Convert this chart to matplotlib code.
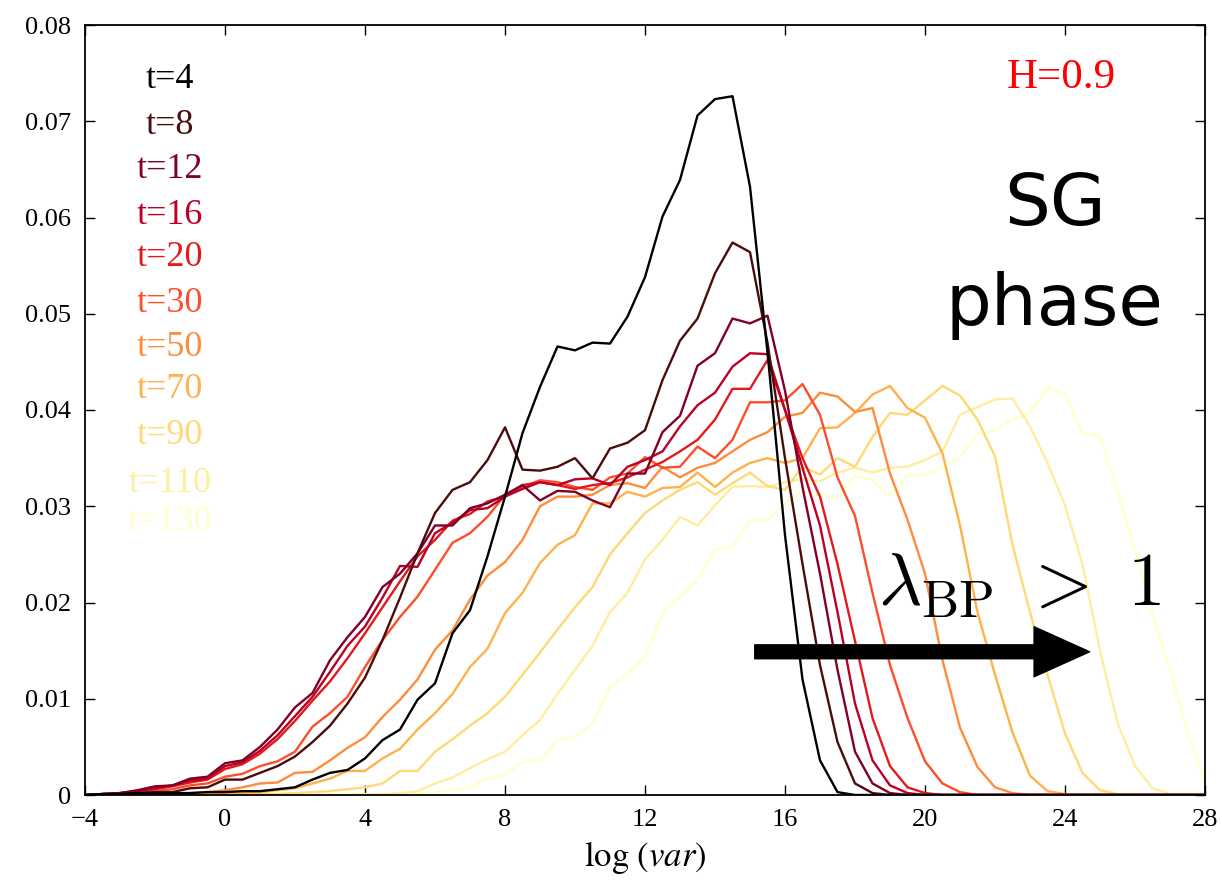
import numpy as np
import matplotlib.pyplot as plt

# bin centres of log(var)
log_var = np.arange(-4, 28.01, 0.5)

t4 = [0, 0.0001, 0.0001, 0.0002, 0.0002, 0.0002, 0.0002, 0.0003, 0.0003, 0.0004,
      0.0004, 0.0006, 0.0008, 0.0016, 0.0023, 0.0026, 0.0038, 0.0057, 0.0068, 0.0099,
      0.0116, 0.0168, 0.0192, 0.0248, 0.031, 0.0376, 0.0424, 0.0466, 0.0462, 0.047,
      0.0469, 0.0497, 0.0538, 0.0601, 0.0639, 0.0706, 0.0723, 0.0726, 0.0632, 0.046,
      0.027, 0.012, 0.0036, 0.0003, 0, 0, 0, 0, 0, 0,
      0, 0, 0, 0, 0, 0, 0, 0, 0, 0,
      0, 0, 0, 0, 0]
t8 = [0, 0.0001, 0.0001, 0.0002, 0.0003, 0.0003, 0.0007, 0.0008, 0.0016, 0.0016,
      0.0023, 0.003, 0.004, 0.0055, 0.0072, 0.0095, 0.0122, 0.0161, 0.0205, 0.0251,
      0.0293, 0.0317, 0.0325, 0.0348, 0.0382, 0.0338, 0.0337, 0.0341, 0.035, 0.0329,
      0.036, 0.0366, 0.0379, 0.0431, 0.0472, 0.0495, 0.0542, 0.0574, 0.0564, 0.047,
      0.035, 0.024, 0.0135, 0.0055, 0.0012, 0.0002, 0, 0, 0, 0,
      0, 0, 0, 0, 0, 0, 0, 0, 0, 0,
      0, 0, 0, 0, 0]
t12 = [0, 0.0001, 0.0002, 0.0005, 0.0009, 0.001, 0.0017, 0.0019, 0.0033, 0.0036,
       0.005, 0.0068, 0.0091, 0.0106, 0.014, 0.0164, 0.0185, 0.0216, 0.023, 0.0251,
       0.028, 0.028, 0.0298, 0.0303, 0.0312, 0.0322, 0.0306, 0.0316, 0.0315, 0.0306,
       0.0299, 0.0334, 0.0334, 0.0377, 0.0394, 0.0446, 0.0459, 0.0495, 0.049, 0.0498,
       0.042, 0.032, 0.023, 0.013, 0.0045, 0.0012, 0.0002, 0, 0, 0,
       0, 0, 0, 0, 0, 0, 0, 0, 0, 0,
       0, 0, 0, 0, 0]
t16 = [0, 0.0001, 0.0002, 0.0004, 0.0007, 0.001, 0.0015, 0.0017, 0.003, 0.0034,
       0.0046, 0.0062, 0.0082, 0.0102, 0.0128, 0.0155, 0.0175, 0.0205, 0.0238, 0.0237,
       0.0272, 0.0283, 0.0296, 0.0298, 0.031, 0.0318, 0.0325, 0.0322, 0.0328, 0.0329,
       0.0322, 0.0341, 0.0348, 0.0357, 0.0383, 0.0405, 0.0418, 0.0445, 0.0459, 0.0458,
       0.040, 0.034, 0.028, 0.019, 0.0095, 0.0036, 0.001, 0.0002, 0, 0,
       0, 0, 0, 0, 0, 0, 0, 0, 0, 0,
       0, 0, 0, 0, 0]
t20 = [0, 0.0001, 0.0002, 0.0004, 0.0006, 0.0009, 0.0013, 0.0016, 0.0027, 0.0032,
       0.0043, 0.0058, 0.0077, 0.0098, 0.0118, 0.0142, 0.0168, 0.0195, 0.0222, 0.0248,
       0.0265, 0.0285, 0.0292, 0.0305, 0.031, 0.0322, 0.0325, 0.0322, 0.0318, 0.0322,
       0.0324, 0.033, 0.0338, 0.0346, 0.0357, 0.0369, 0.039, 0.0422, 0.0422, 0.0452,
       0.040, 0.035, 0.031, 0.024, 0.016, 0.008, 0.003, 0.0008, 0.0002, 0,
       0, 0, 0, 0, 0, 0, 0, 0, 0, 0,
       0, 0, 0, 0, 0]
t30 = [0, 0, 0.0001, 0.0002, 0.0004, 0.0006, 0.001, 0.0012, 0.0019, 0.0022,
       0.003, 0.0035, 0.0045, 0.0071, 0.0085, 0.0102, 0.0133, 0.0161, 0.0185, 0.0206,
       0.0234, 0.0262, 0.0272, 0.0289, 0.0312, 0.032, 0.0327, 0.0325, 0.032, 0.0317,
       0.033, 0.0334, 0.0351, 0.034, 0.0341, 0.0362, 0.035, 0.0369, 0.0408, 0.0408,
       0.041, 0.0427, 0.0395, 0.033, 0.029, 0.021, 0.0135, 0.008, 0.0035, 0.0012,
       0.0003, 0, 0, 0, 0, 0, 0, 0, 0, 0,
       0, 0, 0, 0, 0]
t50 = [0, 0, 0, 0, 0.0001, 0.0001, 0.0002, 0.0003, 0.0005, 0.0008,
       0.0012, 0.0013, 0.0023, 0.0024, 0.0036, 0.0049, 0.006, 0.0081, 0.0099, 0.012,
       0.0151, 0.0171, 0.0203, 0.0228, 0.0242, 0.0265, 0.030, 0.031, 0.031, 0.0312,
       0.0322, 0.0324, 0.0319, 0.0341, 0.033, 0.034, 0.0345, 0.0357, 0.0369, 0.0377,
       0.0393, 0.0397, 0.0418, 0.0414, 0.0398, 0.0402, 0.0334, 0.0286, 0.023, 0.014,
       0.007, 0.0029, 0.0008, 0.0002, 0, 0, 0, 0, 0, 0,
       0, 0, 0, 0, 0]
t70 = [0, 0, 0, 0, 0, 0, 0, 0.0001, 0.0002, 0.0002,
       0.0003, 0.0005, 0.0007, 0.0012, 0.0017, 0.0025, 0.0025, 0.0038, 0.0048, 0.0068,
       0.0085, 0.0105, 0.0133, 0.0152, 0.0189, 0.021, 0.0241, 0.026, 0.027, 0.0303,
       0.0303, 0.0315, 0.031, 0.0319, 0.032, 0.0335, 0.032, 0.0335, 0.0345, 0.035,
       0.0345, 0.035, 0.0381, 0.0382, 0.0397, 0.0416, 0.0425, 0.0402, 0.0392, 0.0355,
       0.028, 0.019, 0.0125, 0.0065, 0.002, 0.0004, 0.0001, 0, 0, 0,
       0, 0, 0, 0, 0]
t90 = [0, 0, 0, 0, 0, 0, 0, 0, 0, 0.0001,
       0.0001, 0.0001, 0.0002, 0.0003, 0.0004, 0.0006, 0.0008, 0.0012, 0.0025, 0.0025,
       0.0045, 0.0058, 0.0072, 0.0085, 0.0102, 0.0125, 0.0148, 0.0172, 0.0195, 0.0216,
       0.025, 0.0272, 0.0293, 0.0306, 0.0317, 0.0325, 0.0312, 0.0324, 0.0335, 0.0321,
       0.0317, 0.0341, 0.0333, 0.035, 0.0341, 0.0372, 0.0397, 0.0395, 0.041, 0.0425,
       0.0415, 0.039, 0.0352, 0.026, 0.019, 0.0125, 0.0064, 0.0023, 0.0005, 0.0001,
       0, 0, 0, 0, 0]
t110 = [0, 0, 0, 0, 0, 0, 0, 0, 0, 0,
        0, 0, 0, 0, 0, 0, 0.0001, 0.0001, 0.0002, 0.0004,
        0.0012, 0.0018, 0.0028, 0.0037, 0.0045, 0.0062, 0.0078, 0.0105, 0.013, 0.0155,
        0.019, 0.021, 0.0245, 0.0265, 0.0289, 0.028, 0.0301, 0.032, 0.0321, 0.032,
        0.0325, 0.0328, 0.0326, 0.0335, 0.034, 0.0335, 0.034, 0.0341, 0.0348, 0.0357,
        0.0395, 0.0403, 0.0411, 0.0412, 0.0383, 0.0345, 0.0301, 0.024, 0.015, 0.0075,
        0.003, 0.0007, 0.0001, 0, 0]
t130 = [0, 0, 0, 0, 0, 0, 0, 0, 0, 0,
        0, 0, 0, 0, 0, 0, 0, 0, 0.0001, 0.0002,
        0.0003, 0.0005, 0.0008, 0.0017, 0.0021, 0.0034, 0.0036, 0.0057, 0.006, 0.0075,
        0.0112, 0.0127, 0.0143, 0.0189, 0.0206, 0.0223, 0.0255, 0.0258, 0.0286, 0.0286,
        0.0303, 0.0315, 0.0312, 0.0309, 0.0332, 0.0327, 0.031, 0.0332, 0.0333, 0.034,
        0.0351, 0.0376, 0.0379, 0.039, 0.0397, 0.0424, 0.0416, 0.0376, 0.0372, 0.0316,
        0.0255, 0.0188, 0.013, 0.0066, 0.0013]

curves = [t4, t8, t12, t16, t20, t30, t50, t70, t90, t110, t130]
labels = ["t=4", "t=8", "t=12", "t=16", "t=20", "t=30", "t=50", "t=70", "t=90", "t=110", "t=130"]
colors = ["#000000", "#4b0c0c", "#800026", "#bd0026", "#e31a1c", "#fc4e2a",
          "#fd8d3c", "#feb24c", "#fed976", "#ffeda0", "#ffffcc"]
label_y = [79, 126, 169, 215, 258, 303, 347, 390, 435, 484, 522]  # pixel rows of the labels

x_ticks = [-4, 0, 4, 8, 12, 16, 20, 24, 28]
x_tick_labels = ["\u22124", "0", "4", "8", "12", "16", "20", "24", "28"]
y_ticks = [0, 0.01, 0.02, 0.03, 0.04, 0.05, 0.06, 0.07, 0.08]
y_tick_labels = ["0", "0.01", "0.02", "0.03", "0.04", "0.05", "0.06", "0.07", "0.08"]

plt.rcParams['font.family'] = ['Liberation Serif', 'DejaVu Serif']

fig = plt.figure(figsize=(12.22, 8.83), dpi=100)
ax = fig.add_axes([85 / 1222, 1 - 795 / 883, 1120 / 1222, 770 / 883])

for ys, c in reversed(list(zip(curves, colors))):
    ax.plot(log_var, ys, color=c, lw=1.7)

ax.set_xlim(-4, 28)
ax.set_ylim(0, 0.08)
ax.set_xticks(x_ticks)
ax.set_xticklabels(x_tick_labels)
ax.set_yticks(y_ticks)
ax.set_yticklabels(y_tick_labels)
ax.tick_params(direction='in', length=7, width=1, labelsize=19, top=True, right=True, pad=10)
for s in ax.spines.values():
    s.set_linewidth(1.3)
ax.set_xlabel(r'$\log\,(\mathit{var})$', fontsize=25, math_fontfamily='stix', labelpad=6)

for lab, c, py in zip(labels, colors, label_y):
    ax.text(0.076, (795 - py) / 770, lab, color=c, fontsize=26, ha='center', va='center',
            transform=ax.transAxes)

ax.text(0.872, (795 - 78) / 770, "H=0.9", color='red', fontsize=31, ha='center', va='center',
        transform=ax.transAxes)
ax.text(0.866, (795 - 205) / 770, "SG", fontsize=52, ha='center', va='center',
        family='DejaVu Sans', transform=ax.transAxes)
ax.text(0.866, (795 - 305) / 770, "phase", fontsize=52, ha='center', va='center',
        family='DejaVu Sans', transform=ax.transAxes)
ax.text(0.708, (795 - 605) / 770, r'$\lambda_{\rm BP}\ >\ 1$', fontsize=54, ha='left',
        va='baseline', math_fontfamily='cm', transform=ax.transAxes)

ax.annotate('', xy=(0.897, 0.186), xytext=(0.598, 0.186), xycoords='axes fraction',
            arrowprops=dict(arrowstyle='simple,head_length=4.0,head_width=3.6,tail_width=1.0',
                            mutation_scale=10, color='black', shrinkA=0, shrinkB=0))

fig.savefig('out.png', dpi=100)
